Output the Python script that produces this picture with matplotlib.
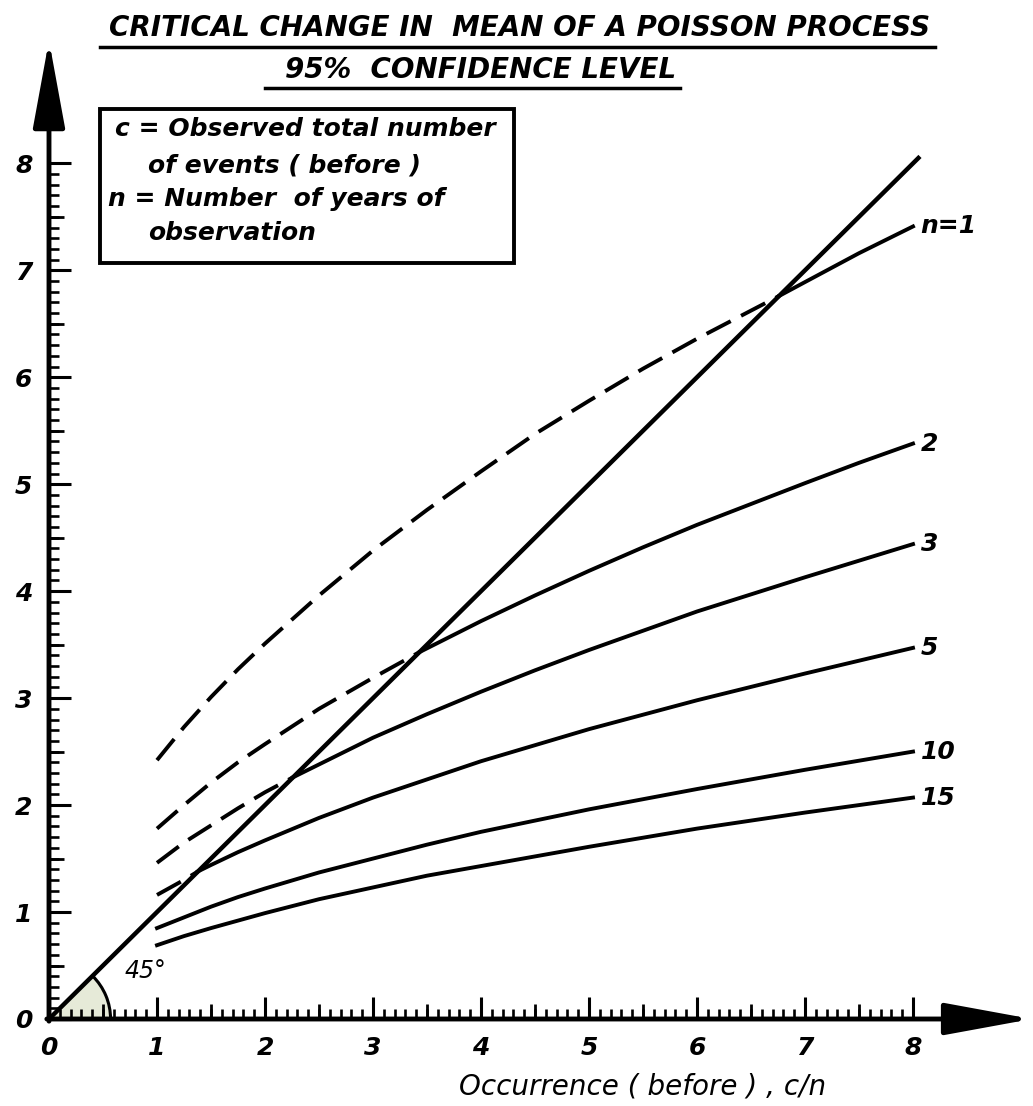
import numpy as np
import matplotlib.pyplot as plt
from matplotlib.patches import Wedge, Rectangle, Arc
from matplotlib.lines import Line2D
from matplotlib.ticker import FixedLocator

# values
n_labels = ['n=1', '2', '3', '5', '10', '15']

x_n1 = [1, 1.25, 1.5, 1.75, 2, 2.5, 3, 3.5, 4, 4.5, 5, 5.5, 6, 6.76, 7, 7.5, 8]
y_n1 = [2.42, 2.73, 3.01, 3.27, 3.51, 3.96, 4.38, 4.76, 5.12, 5.47, 5.78, 6.08, 6.36, 6.76, 6.89, 7.16, 7.41]
x_n2 = [1, 1.25, 1.5, 1.75, 2, 2.5, 3, 3.43, 4, 4.5, 5, 5.5, 6, 7, 7.5, 8]
y_n2 = [1.78, 2.00, 2.21, 2.40, 2.57, 2.90, 3.19, 3.43, 3.72, 3.96, 4.19, 4.41, 4.62, 5.01, 5.20, 5.38]
x_n3 = [1, 1.25, 1.5, 1.75, 2, 2.26, 2.5, 3, 3.5, 4, 4.5, 5, 6, 7, 8]
y_n3 = [1.46, 1.65, 1.81, 1.97, 2.12, 2.26, 2.38, 2.63, 2.85, 3.06, 3.26, 3.45, 3.81, 4.13, 4.44]
x_n5 = [1, 1.25, 1.38, 1.5, 1.75, 2, 2.5, 3, 3.5, 4, 4.5, 5, 6, 7, 8]
y_n5 = [1.16, 1.30, 1.38, 1.44, 1.56, 1.67, 1.88, 2.07, 2.24, 2.41, 2.56, 2.71, 2.98, 3.23, 3.47]
x_n10 = [1, 1.25, 1.5, 1.75, 2, 2.5, 3, 3.5, 4, 5, 6, 7, 8]
y_n10 = [0.85, 0.95, 1.05, 1.14, 1.22, 1.37, 1.50, 1.63, 1.75, 1.96, 2.15, 2.33, 2.50]
x_n15 = [1, 1.25, 1.5, 1.75, 2, 2.5, 3, 3.5, 4, 5, 6, 7, 8]
y_n15 = [0.69, 0.775, 0.85, 0.92, 0.99, 1.12, 1.23, 1.34, 1.43, 1.61, 1.78, 1.93, 2.07]

# dashed while the curve lies above the 45 deg line
cross_x = [6.76, 3.43, 2.26, 1.38, None, None]

diag_x = [0, 8.05]
diag_y = [0, 8.05]

xs = [x_n1, x_n2, x_n3, x_n5, x_n10, x_n15]
ys = [y_n1, y_n2, y_n3, y_n5, y_n10, y_n15]

font = dict(family='DejaVu Sans', style='oblique', weight='bold')

fig = plt.figure(figsize=(10.33, 11.06), dpi=100)
ax = fig.add_axes([49/1033, 87/1106, 972/1033, 984/1106])
ax.set_xlim(0, 9.0)
ax.set_ylim(0, 9.2)
for s in ax.spines.values():
    s.set_visible(False)

lw = 2.8
for x, y, cx, lab in zip(xs, ys, cross_x, n_labels):
    x = np.array(x)
    y = np.array(y)
    if cx is None:
        ax.plot(x, y, color='k', lw=lw, solid_joinstyle='round')
    else:
        m1 = x <= cx
        m2 = x >= cx
        ax.plot(x[m1], y[m1], color='k', lw=lw, dashes=(7, 3), dash_capstyle='butt')
        ax.plot(x[m2], y[m2], color='k', lw=lw, solid_joinstyle='round')
    ax.text(x[-1] + 0.07, y[-1], lab, fontsize=18, va='center', ha='left', **font)

ax.plot(diag_x, diag_y, color='k', lw=3.2)

# 45 deg marker
ax.add_patch(Wedge((0, 0), 0.57, 0, 45, facecolor='#e6ead8', edgecolor='none', zorder=0))
ax.add_patch(Arc((0, 0), 1.14, 1.14, theta1=0, theta2=45, color='k', lw=2.2))
ax.text(0.7, 0.45, '45°', fontsize=17, va='center', ha='left', family='DejaVu Sans', style='oblique')

# axes drawn as arrows
ax.annotate('', xy=(9.1, 0), xytext=(-0.02, 0), annotation_clip=False,
            arrowprops=dict(arrowstyle='-|>,head_length=1.8,head_width=0.33',
                            mutation_scale=30, lw=3.5, color='k', shrinkA=0, shrinkB=0))
ax.annotate('', xy=(0, 9.15), xytext=(0, -0.02), annotation_clip=False,
            arrowprops=dict(arrowstyle='-|>,head_length=1.8,head_width=0.33',
                            mutation_scale=30, lw=3.5, color='k', shrinkA=0, shrinkB=0))

ticks = np.arange(0, 9)
ax.xaxis.set_major_locator(FixedLocator(ticks))
ax.yaxis.set_major_locator(FixedLocator(ticks))
ax.xaxis.set_minor_locator(FixedLocator(np.round(np.arange(0, 8.01, 0.1), 2)))
ax.yaxis.set_minor_locator(FixedLocator(np.round(np.arange(0, 8.01, 0.1), 2)))
ax.tick_params(which='major', direction='in', length=16, width=2.2, pad=12)
ax.tick_params(which='minor', direction='in', length=7, width=1.9)
ax.set_xticklabels([str(t) for t in ticks], fontsize=18, **font)
ax.set_yticklabels([str(t) for t in ticks], fontsize=18, **font)

# half-unit ticks
half = np.arange(0.5, 8, 1.0)
secx = ax.secondary_xaxis('bottom')
secx.set_xticks(half)
secx.set_xticklabels([])
secx.tick_params(direction='in', length=11, width=2.0)
secx.spines['bottom'].set_visible(False)
secy = ax.secondary_yaxis('left')
secy.set_yticks(half)
secy.set_yticklabels([])
secy.tick_params(direction='in', length=11, width=2.0)
secy.spines['left'].set_visible(False)

ax.text(5.5, -0.63, 'Occurrence ( before ) , c/n', fontsize=20, ha='center', va='center',
        family='DejaVu Sans', style='oblique')

# definition box
ax.add_patch(Rectangle((0.47, 7.07), 3.84, 1.44, fill=False, lw=2.8, edgecolor='k'))
ax.text(0.61, 8.32, 'c = Observed total number', fontsize=18, va='center', **font)
ax.text(0.92, 7.98, 'of events ( before )', fontsize=18, va='center', **font)
ax.text(0.55, 7.67, 'n = Number  of years of', fontsize=18, va='center', **font)
ax.text(0.92, 7.35, 'observation', fontsize=18, va='center', **font)

# title
fig.text(0.503, 1 - 28/1106, 'CRITICAL CHANGE IN  MEAN OF A POISSON PROCESS', fontsize=20,
         ha='center', va='center', **font)
fig.text(0.465, 1 - 70/1106, '95%  CONFIDENCE LEVEL', fontsize=20, ha='center', va='center', **font)
fig.add_artist(Line2D([100/1033, 935/1033], [1 - 47/1106, 1 - 47/1106], color='k', lw=2.5))
fig.add_artist(Line2D([265/1033, 680/1033], [1 - 88/1106, 1 - 88/1106], color='k', lw=2.5))

fig.savefig('out.png', dpi=100)
